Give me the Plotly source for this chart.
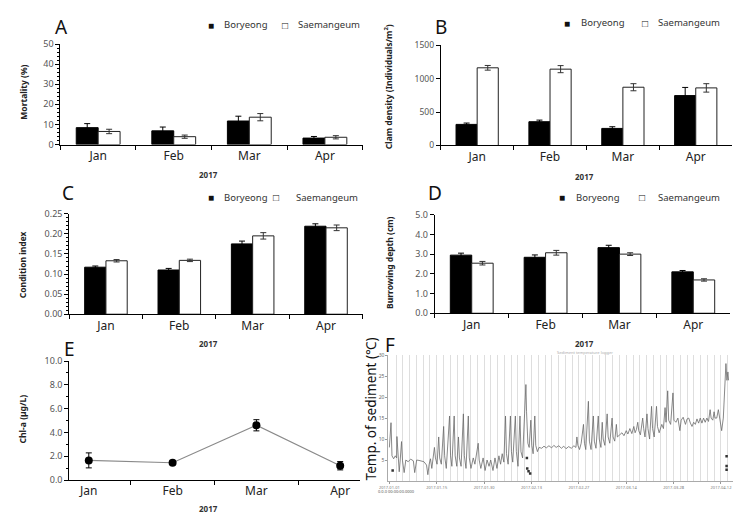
import plotly.graph_objects as go
import pandas as pd

# ---------------- data ----------------
months = ["Jan", "Feb", "Mar", "Apr"]
sites = ["Boryeong", "Saemangeum"]

mort_bor = [8.4, 6.8, 11.7, 3.2]
mort_bor_err = [2.0, 1.9, 2.4, 0.8]
mort_sae = [6.5, 3.9, 13.6, 3.6]
mort_sae_err = [1.1, 0.8, 1.8, 0.8]

dens_bor = [315, 355, 255, 745]
dens_bor_err = [20, 24, 25, 122]
dens_sae = [1160, 1140, 870, 860]
dens_sae_err = [35, 53, 53, 63]

ci_bor = [0.117, 0.110, 0.175, 0.219]
ci_bor_err = [0.003, 0.004, 0.007, 0.006]
ci_sae = [0.133, 0.134, 0.195, 0.215]
ci_sae_err = [0.003, 0.003, 0.008, 0.007]

bd_bor = [2.95, 2.84, 3.33, 2.10]
bd_bor_err = [0.10, 0.12, 0.12, 0.07]
bd_sae = [2.54, 3.07, 3.00, 1.69]
bd_sae_err = [0.09, 0.12, 0.07, 0.06]

chla = [1.65, 1.45, 4.6, 1.2]
chla_err = [0.63, 0.15, 0.47, 0.35]

# sediment temperature log (days after 2017-01-01, deg C)
f_day = [0.3, 0.8, 1.1, 1.6, 2.1, 2.5, 2.6, 2.9, 3.3, 3.6, 4.0, 4.3, 4.8, 5.3, 6.0, 6.8, 7.6, 8.0,
         8.6, 9.3, 10.0, 10.8, 11.6, 12.0, 12.4, 12.8, 13.2, 13.6, 14.0, 14.3, 14.8, 15.3, 15.6, 16.1,
         16.8, 17.1, 17.6, 18.6, 18.9, 19.3, 20.0, 20.3, 20.8, 21.3, 21.6, 22.1, 22.8, 23.1, 23.6, 24.3,
         24.6, 25.1, 25.8, 26.3, 27.3, 27.6, 28.1, 28.8, 29.4, 30.0, 30.6, 31.1, 31.8, 32.4, 33.0, 33.6,
         34.1, 34.6, 35.1, 35.6, 35.9, 36.4, 37.1, 37.4, 37.8, 38.6, 38.9, 39.4, 40.0, 40.3, 40.8, 41.4,
         41.8, 42.0, 42.4, 42.8, 43.3, 43.6, 44.0, 44.5, 44.8, 45.3, 45.8, 46.6, 47.3, 48.0, 48.8, 49.6,
         50.3, 51.0, 51.8, 52.6, 53.3, 54.0, 54.8, 55.6, 56.4, 57.0, 57.3, 57.6, 58.1, 58.6, 59.3, 59.6,
         60.0, 60.8, 61.1, 61.6, 62.3, 62.6, 63.1, 63.8, 64.1, 64.6, 65.0, 65.3, 65.8, 66.5, 66.8, 67.3,
         68.0, 68.3, 68.8, 69.3, 69.6, 70.3, 71.0, 71.6, 72.3, 72.8, 73.4, 74.0, 74.6, 75.0, 75.4, 75.8,
         76.1, 76.6, 77.3, 77.6, 78.0, 78.6, 78.9, 79.4, 80.0, 80.3, 80.8, 81.5, 81.8, 82.3, 83.1, 83.6,
         84.1, 84.4, 84.9, 85.2, 85.8, 86.5, 86.8, 87.4, 88.0, 88.6, 89.0, 89.6, 90.3, 90.8, 91.3, 91.8,
         92.3, 92.8, 93.3, 93.8, 94.3, 94.8, 95.3, 95.8, 96.3, 96.8, 97.3, 97.8, 98.1, 98.6, 99.0, 99.3,
         99.8, 100.3, 100.8, 101.3, 101.8, 102.3, 102.6, 102.9, 103.2, 103.4]
f_temp = [8.0, 13.9, 6.0, 5.3, 6.0, 5.5, 10.6, 5.8, 2.2, 5.0, 9.4, 4.8, 2.0, 5.0, 4.6, 5.2, 4.8, 2.0,
          5.0, 4.9, 4.7, 4.6, 3.8, 1.5, 4.0, 5.3, 3.0, 5.5, 8.0, 5.5, 4.0, 10.5, 5.5, 4.0,
          13.0, 6.0, 3.0, 15.5, 6.0, 3.5, 15.5, 6.0, 3.5, 10.5, 5.5, 3.5, 16.0, 6.0, 3.0, 15.5,
          5.5, 3.0, 5.5, 4.0, 9.0, 5.0, 3.0, 5.5, 2.5, 5.0, 3.5, 5.0, 2.5, 5.5, 3.0, 6.0,
          4.0, 6.5, 4.5, 15.5, 6.5, 4.0, 15.5, 7.0, 4.5, 15.5, 7.0, 3.5, 15.5, 7.0, 5.5, 16.0,
          23.0, 16.5, 9.0, 8.0, 14.5, 8.5, 6.5, 15.5, 8.5, 7.0, 8.0, 7.8, 8.3, 7.9, 8.4, 7.9,
          8.5, 8.0, 8.4, 7.8, 8.3, 7.7, 8.2, 7.8, 8.4, 8.0, 10.5, 8.5, 7.5, 9.0, 13.5, 9.0,
          7.5, 19.0, 9.5, 7.5, 15.5, 9.5, 7.8, 15.5, 10.0, 8.0, 14.0, 10.0, 8.5, 16.0, 10.5, 9.0,
          15.0, 10.5, 9.5, 13.5, 10.5, 11.0, 11.5, 10.8, 12.0, 11.2, 12.5, 11.3, 13.0, 11.5, 12.3, 14.0,
          12.0, 11.0, 15.0, 12.5, 10.5, 16.0, 12.5, 10.0, 17.8, 12.5, 10.5, 17.8, 13.0, 11.5, 13.5, 12.5,
          17.5, 14.0, 21.5, 14.5, 13.5, 21.0, 14.5, 14.0, 15.0, 12.0, 14.5, 15.2, 13.5, 14.8, 15.0, 13.8,
          13.0, 14.0, 13.5, 14.8, 13.8, 15.0, 13.8, 15.0, 14.0, 15.0, 14.2, 17.0, 15.0, 14.5, 16.5, 15.0,
          15.0, 17.0, 14.5, 12.0, 15.0, 22.0, 28.0, 24.0, 26.0, 24.0]
f_dot_day = [1.3, 42.1, 42.2, 42.6, 43.1, 102.8, 102.8, 102.8]
f_dot_temp = [2.5, 5.5, 3.0, 2.3, 1.8, 5.9, 3.6, 2.7]

# ---------------- helpers ----------------
W, H = 747, 526
def px(x):
    return x / W
def py(y):
    return 1 - y / H

FONT = "Noto Sans"
start = pd.Timestamp("2017-01-01")
f_time = [start + pd.to_timedelta(d, unit="D") for d in f_day]
f_dot_time = [start + pd.to_timedelta(d, unit="D") for d in f_dot_day]

fig = go.Figure()

def err(arr, col="black"):
    return dict(type="data", array=arr, color=col, thickness=1, width=3)

def add_bars(ax, ay, bor, bor_e, sae, sae_e):
    fig.add_trace(go.Bar(x=months, y=bor, name=sites[0], xaxis=ax, yaxis=ay,
                         marker=dict(color="black", line=dict(color="black", width=1)),
                         error_y=err(bor_e), showlegend=False))
    fig.add_trace(go.Bar(x=months, y=sae, name=sites[1], xaxis=ax, yaxis=ay,
                         marker=dict(color="white", line=dict(color="#222", width=1)),
                         error_y=err(sae_e, "#333"), showlegend=False))

add_bars("x", "y", mort_bor, mort_bor_err, mort_sae, mort_sae_err)
add_bars("x2", "y2", dens_bor, dens_bor_err, dens_sae, dens_sae_err)
add_bars("x3", "y3", ci_bor, ci_bor_err, ci_sae, ci_sae_err)
add_bars("x4", "y4", bd_bor, bd_bor_err, bd_sae, bd_sae_err)

fig.add_trace(go.Scatter(x=months, y=chla, mode="lines+markers", xaxis="x5", yaxis="y5",
                         line=dict(color="#8a8a8a", width=1.2),
                         marker=dict(color="black", size=8),
                         error_y=err(chla_err), showlegend=False))

fig.add_trace(go.Scatter(x=f_time, y=f_temp, mode="lines", xaxis="x6", yaxis="y6",
                         line=dict(color="#6a6a6a", width=0.8), showlegend=False))
fig.add_trace(go.Scatter(x=f_dot_time, y=f_dot_temp, mode="markers", xaxis="x6", yaxis="y6",
                         marker=dict(color="#333", size=2.5, symbol="square"), showlegend=False))

# ---------------- axes ----------------
def cat_axis(x0, x1, anchor):
    return dict(domain=[px(x0), px(x1)], anchor=anchor, type="category",
                showline=True, linecolor="black", linewidth=1, mirror=False,
                ticks="outside", ticklen=4, tickcolor="black", tickson="boundaries",
                tickfont=dict(family=FONT, size=12, color="#222"), showgrid=False, zeroline=False,
                fixedrange=True)

def val_axis(y0, y1, anchor, rng, dtick, fmt, minor=None, size=9):
    d = dict(domain=[py(y1), py(y0)], anchor=anchor, range=rng, dtick=dtick, tickformat=fmt,
             showline=True, linecolor="black", linewidth=1, ticks="outside", ticklen=4,
             tickcolor="black", tickfont=dict(family=FONT, size=size, color="#555"),
             showgrid=False, zeroline=False, fixedrange=True)
    if minor is not None:
        d["minor"] = dict(dtick=minor, ticks="outside", ticklen=2, tickcolor="black", showgrid=False)
    return d

DAY = 86400000
layout = dict(
    width=W, height=H, margin=dict(l=0, r=0, t=0, b=0),
    paper_bgcolor="white", plot_bgcolor="white",
    barmode="group", bargap=0.42, bargroupgap=0.0,
    font=dict(family=FONT, color="#222"),
    xaxis=cat_axis(52, 358, "y"),
    yaxis=val_axis(38, 141, "x", [0, 50], 10, "d", minor=2),
    xaxis2=cat_axis(437, 732, "y2"),
    yaxis2=val_axis(39, 142, "x2", [0, 1500], 500, "d", size=8.5),
    xaxis3=cat_axis(61, 358, "y3"),
    yaxis3=val_axis(212, 315, "x3", [0, 0.25], 0.05, ".2f", minor=0.01),
    xaxis4=cat_axis(431, 730, "y4"),
    yaxis4=val_axis(213, 314, "x4", [0, 5], 1, ".1f"),
    xaxis5=cat_axis(61, 355, "y5"),
    yaxis5=val_axis(363, 485, "x5", [0, 10], 2, ".1f", minor=1),
    xaxis6=dict(domain=[px(384), px(733)], anchor="y6", type="date",
                range=[start, start + pd.to_timedelta(104.8, unit="D")],
                tick0=start + pd.to_timedelta(0.3, unit="D"), dtick=14.4 * DAY,
                tickformat="%Y-%m-%d", tickfont=dict(family=FONT, size=4, color="#777"),
                ticks="outside", ticklen=2, tickcolor="#999",
                showline=True, linecolor="#aaa", linewidth=1,
                showgrid=True, gridcolor="#dedede", gridwidth=1,
                minor=dict(tick0=start + pd.to_timedelta(0.3, unit="D"), dtick=14.4 / 7 * DAY,
                           showgrid=True, gridcolor="#dedede", gridwidth=1),
                zeroline=False, fixedrange=True),
    yaxis6=dict(domain=[py(486), py(357)], anchor="x6", range=[0, 30],
                tickvals=[5, 10, 15, 20, 25, 30],
                tickfont=dict(family=FONT, size=5, color="#666"),
                ticks="outside", ticklen=2, tickcolor="#999",
                showline=True, linecolor="#aaa", linewidth=1,
                showgrid=False, zeroline=False, fixedrange=True),
)
fig.update_layout(**layout)

# ---------------- text ----------------
ann = []
def text(x, y, s, size, xanchor="center", angle=0, bold=False, color="#222", family=FONT):
    ann.append(dict(x=px(x), y=py(y), xref="paper", yref="paper", text=("<b>%s</b>" % s) if bold else s,
                    showarrow=False, xanchor=xanchor, yanchor="middle", textangle=angle,
                    font=dict(family=family, size=size, color=color)))

# panel letters
for lab, x, y in [("A", 53, 20), ("B", 437, 20), ("C", 60, 191), ("D", 431, 191), ("E", 61, 351), ("F", 386, 347)]:
    text(x, y, lab, 19, color="#111")

# legends
def legend(xs1, xt1, xs2, xt2, y):
    text(xs1, y, "■", 10, xanchor="left", color="#111")
    text(xt1, y, sites[0], 9.5, xanchor="left", color="#333")
    text(xs2, y, "□", 10, xanchor="left", color="#111")
    text(xt2, y, sites[1], 9.5, xanchor="left", color="#333")

legend(199, 216, 274, 290, 18)
legend(560, 577, 639, 655, 16)
legend(199, 216, 265, 288, 195)
legend(555, 572, 636, 655, 195)

# year labels
for x, y in [(202, 172), (583, 174), (202, 345), (583, 345), (202, 514)]:
    text(x, y, "2017", 8, bold=True, color="#333")

# y titles
text(15, 87, "Mortality (%)", 8.5, angle=-90, bold=True)
text(384, 82, "Clam density (Individuals/m<sup>2</sup>)", 8.5, angle=-90, bold=True)
text(14, 264, "Condition index", 8.5, angle=-90, bold=True)
text(385, 262, "Burrowing depth (cm)", 8.5, angle=-90, bold=True)
text(14, 422, "Chl-a (µg/L)", 8.5, angle=-90, bold=True)
text(366, 412, "Temp. of sediment (℃)", 13.5, angle=-90, color="#111")

# tiny labels in the logger screenshot
text(553, 354, "Sediment temperature logger", 4, xanchor="left", color="#aaa")
text(371, 497, "0.0.0 00:00:00.0000", 4, xanchor="left", color="#555")

fig.update_layout(annotations=ann)
fig.write_html("out.html")
